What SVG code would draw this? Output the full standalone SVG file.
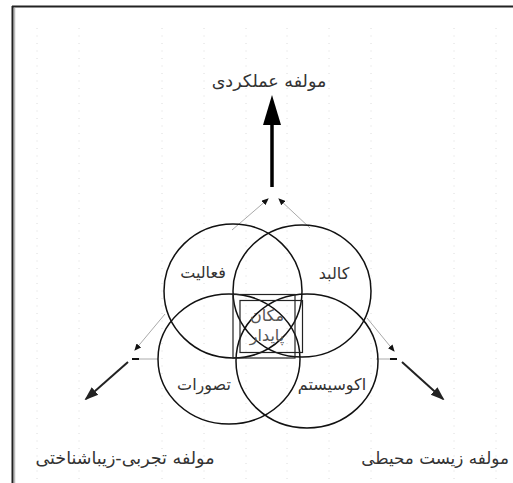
<svg xmlns="http://www.w3.org/2000/svg" width="513" height="483" viewBox="0 0 513 483">
<style>
.grid{stroke:#dcdcdc;stroke-width:1;stroke-dasharray:1 6.5}
.ring{fill:none;stroke:#111;stroke-width:1.5}
.lbl{font-family:"DejaVu Sans",sans-serif;font-size:16px;fill:#333;text-anchor:middle}
.big{font-family:"DejaVu Sans",sans-serif;font-size:17.5px;fill:#333;text-anchor:middle}
.thin{stroke:#aaa;stroke-width:1;fill:none}
.dark{stroke:#222;stroke-width:2;fill:none}
</style>
<defs>
<marker id="midHead" markerUnits="userSpaceOnUse" markerWidth="14" markerHeight="14" refX="12" refY="5" orient="auto" viewBox="0 0 14 10">
<path d="M0 0 L14 5 L0 10 Z" fill="#222"/>
</marker>
<marker id="tinyHead" markerUnits="userSpaceOnUse" markerWidth="7" markerHeight="6" refX="6" refY="3" orient="auto" viewBox="0 0 7 6">
<path d="M0 0 L7 3 L0 6 Z" fill="#111"/>
</marker>
</defs>
<rect width="513" height="483" fill="#fff"/>
<g id="grid">
<line class="grid" x1="37" y1="28" x2="37" y2="483"/>
<line class="grid" x1="79" y1="28" x2="79" y2="483"/>
<line class="grid" x1="162" y1="28" x2="162" y2="483"/>
<line class="grid" x1="204" y1="28" x2="204" y2="483"/>
<line class="grid" x1="246" y1="28" x2="246" y2="483"/>
<line class="grid" x1="287" y1="28" x2="287" y2="483"/>
<line class="grid" x1="329" y1="28" x2="329" y2="483"/>
<line class="grid" x1="371" y1="28" x2="371" y2="483"/>
<line class="grid" x1="454" y1="28" x2="454" y2="483"/>
<line class="grid" x1="496" y1="28" x2="496" y2="483"/>
</g>
<g id="frame">
<line x1="14.5" y1="8" x2="14.5" y2="483" stroke="#bbb" stroke-width="1.5"/>
<line x1="12.5" y1="6" x2="12.5" y2="483" stroke="#222" stroke-width="2"/>
<line x1="12" y1="6.5" x2="513" y2="6.5" stroke="#222" stroke-width="2"/>
</g>
<g id="connectors">
<line x1="272" y1="187" x2="272" y2="122" stroke="#000" stroke-width="3.5"/>
<path d="M272 95 L281 125 L263 125 Z" fill="#000"/>
<line class="thin" x1="232" y1="230" x2="268" y2="199" marker-end="url(#tinyHead)"/>
<line class="thin" x1="310" y1="228" x2="279" y2="199" marker-end="url(#tinyHead)"/>
<line class="thin" x1="165" y1="314" x2="135" y2="350" marker-end="url(#tinyHead)"/>
<line class="thin" x1="367" y1="318" x2="394" y2="351" marker-end="url(#tinyHead)"/>
<line class="thin" x1="139" y1="359" x2="158" y2="359"/>
<line x1="132" y1="359" x2="139" y2="359" stroke="#111" stroke-width="2"/>
<line class="thin" x1="376" y1="359" x2="390" y2="359"/>
<line x1="390" y1="359" x2="397" y2="359" stroke="#111" stroke-width="2"/>
<line class="dark" x1="128" y1="362" x2="86" y2="399" marker-end="url(#midHead)"/>
<line class="dark" x1="402" y1="362" x2="443" y2="399" marker-end="url(#midHead)"/>
</g>
<g id="node-faaliat">
<ellipse class="ring" cx="233" cy="291" rx="69" ry="67"/>
<text class="lbl" x="203" y="278">فعالیت</text>
</g>
<g id="node-kalbad">
<ellipse class="ring" cx="302" cy="291" rx="69" ry="66"/>
<text class="lbl" x="334" y="279">کالبد</text>
</g>
<g id="node-tasavorat">
<ellipse class="ring" cx="229" cy="359" rx="71" ry="65"/>
<text class="lbl" x="204" y="390">تصورات</text>
</g>
<g id="node-ecosystem">
<ellipse class="ring" cx="307" cy="361" rx="71" ry="67"/>
<text class="lbl" x="332" y="390">اکوسیستم</text>
</g>
<g id="node-center">
<rect x="233" y="294.5" width="62" height="63.5" fill="none" stroke="#222" stroke-width="1.2"/>
<rect x="240" y="300.5" width="62.5" height="52" fill="none" stroke="#222" stroke-width="1.2"/>
<text class="lbl" x="267" y="321" style="fill:#555">مکان</text>
<text class="lbl" x="267" y="341" style="fill:#555">پایدار</text>
</g>
<g id="labels">
<text class="big" x="269" y="87">مولفه عملکردی</text>
<text class="big" x="125" y="464">مولفه تجربی-زیباشناختی</text>
<text class="big" x="509" y="464" style="text-anchor:end;font-size:16.8px">مولفه زیست محیطی</text>
</g>
</svg>
